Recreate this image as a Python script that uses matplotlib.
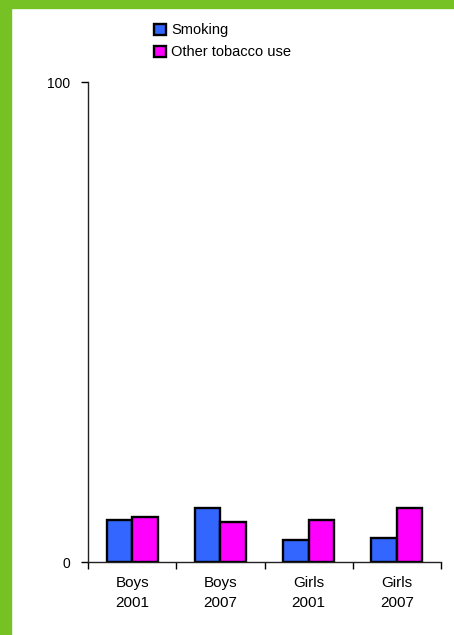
import matplotlib.pyplot as plt
import numpy as np
from matplotlib.patches import Rectangle

plt.rcParams['font.family'] = ['Liberation Sans', 'DejaVu Sans']

groups = ['Boys\n2001', 'Boys\n2007', 'Girls\n2001', 'Girls\n2007']
smoking = [8.8, 11.3, 4.6, 5.1]
other_tobacco = [9.3, 8.4, 8.8, 11.3]

fig = plt.figure(figsize=(4.54, 6.35), dpi=100)
ax = fig.add_axes([88 / 454, 1 - 562 / 635, 353 / 454, 480 / 635])

x = np.arange(len(groups))
w = 0.29
ax.bar(x - w / 2, smoking, w, color='#3366FF', edgecolor='black', linewidth=1.7,
       label='Smoking')
ax.bar(x + w / 2, other_tobacco, w, color='#FF00FF', edgecolor='black', linewidth=1.7,
       label='Other tobacco use')

ax.set_xlim(-0.5, len(groups) - 0.5)
ax.set_ylim(0, 100)
ax.set_yticks([0, 100])
ax.set_yticklabels(['0', '100'], fontsize=10)
ax.set_xticks(x)
ax.set_xticklabels(groups, fontsize=11, linespacing=1.6)
ax.tick_params(axis='x', length=0, pad=10)
ax.set_xticks(np.arange(-0.5, len(groups)), minor=True)
ax.tick_params(axis='x', which='minor', length=5, direction='out', width=1)
ax.tick_params(axis='y', length=5, width=1, pad=8)
for s in ['top', 'right']:
    ax.spines[s].set_visible(False)
for s in ['left', 'bottom']:
    ax.spines[s].set_linewidth(1)
    ax.spines[s].set_color('#222222')

fig.legend(loc='upper left', bbox_to_anchor=(147 / 454, 1 - 16 / 635), frameon=False,
           fontsize=10.5, handlelength=0.8, handleheight=0.8, handletextpad=0.35,
           labelspacing=0.55, borderpad=0)

green = '#76C225'
fig.patches.append(Rectangle((0, 0), 11 / 454, 1, transform=fig.transFigure,
                             color=green, zorder=10))
fig.patches.append(Rectangle((0, 1 - 8 / 635), 1, 8 / 635, transform=fig.transFigure,
                             color=green, zorder=10))

fig.savefig('out.png', dpi=100, facecolor='white')
